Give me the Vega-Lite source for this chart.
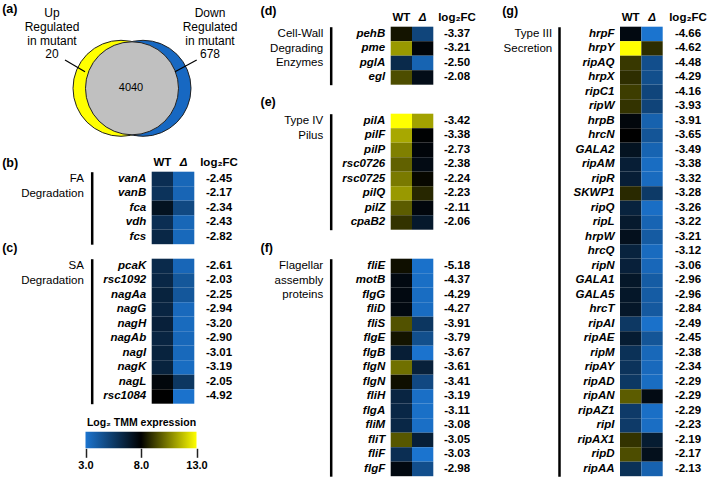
{
"$schema":"https://vega.github.io/schema/vega-lite/v6.json",
"width":709,"height":482,"autosize":{"type":"none"},"padding":0,"background":"white",
"config":{"font":"Liberation Sans","view":{"stroke":null},
 "axis":{"domain":false,"ticks":false,"grid":false,"labelColor":"#000","titleColor":"#000"},
 "locale":{"number":{"decimal":".","thousands":",","grouping":[3],"currency":["$",""],"minus":"-"}}},
"datasets":{
 "venn":[
  {"set":"Up","label":"Up\nRegulated\nin mutant\n20","count":20,"comparison":"mutant vs WT"},
  {"set":"Both","label":"4040","count":4040,"comparison":"mutant vs WT"},
  {"set":"Down","label":"Down\nRegulated\nin mutant\n678","count":678,"comparison":"mutant vs WT"}],
 "scale":[{"measure":"Log₂ TMM expression","low":3,"high":13}],
 "genes":[
  {"panel":"b","gene":"vanA","WT":6.0,"Δ":3.55,"fc":-2.45},
  {"panel":"b","gene":"vanB","WT":5.8,"Δ":3.63,"fc":-2.17},
  {"panel":"b","gene":"fca","WT":7.2,"Δ":4.86,"fc":-2.34},
  {"panel":"b","gene":"vdh","WT":6.0,"Δ":3.57,"fc":-2.43},
  {"panel":"b","gene":"fcs","WT":6.3,"Δ":3.48,"fc":-2.82},
  {"panel":"c","gene":"pcaK","WT":6.2,"Δ":3.59,"fc":-2.61},
  {"panel":"c","gene":"rsc1092","WT":6.3,"Δ":4.27,"fc":-2.03},
  {"panel":"c","gene":"nagAa","WT":6.5,"Δ":4.25,"fc":-2.25},
  {"panel":"c","gene":"nagG","WT":6.4,"Δ":3.46,"fc":-2.94},
  {"panel":"c","gene":"nagH","WT":6.6,"Δ":3.40,"fc":-3.20},
  {"panel":"c","gene":"nagAb","WT":6.4,"Δ":3.50,"fc":-2.90},
  {"panel":"c","gene":"nagI","WT":6.5,"Δ":3.49,"fc":-3.01},
  {"panel":"c","gene":"nagK","WT":6.5,"Δ":3.31,"fc":-3.19},
  {"panel":"c","gene":"nagL","WT":7.7,"Δ":5.65,"fc":-2.05},
  {"panel":"c","gene":"rsc1084","WT":8.0,"Δ":3.08,"fc":-4.92},
  {"panel":"d","gene":"pehB","WT":8.4,"Δ":5.03,"fc":-3.37},
  {"panel":"d","gene":"pme","WT":11.0,"Δ":7.79,"fc":-3.21},
  {"panel":"d","gene":"pglA","WT":6.2,"Δ":3.70,"fc":-2.50},
  {"panel":"d","gene":"egl","WT":9.5,"Δ":7.42,"fc":-2.08},
  {"panel":"e","gene":"pilA","WT":14.6,"Δ":11.18,"fc":-3.42},
  {"panel":"e","gene":"pilF","WT":11.3,"Δ":7.92,"fc":-3.38},
  {"panel":"e","gene":"pilP","WT":10.5,"Δ":7.77,"fc":-2.73},
  {"panel":"e","gene":"rsc0726","WT":9.9,"Δ":7.52,"fc":-2.38},
  {"panel":"e","gene":"rsc0725","WT":10.4,"Δ":8.16,"fc":-2.24},
  {"panel":"e","gene":"pilQ","WT":11.0,"Δ":8.77,"fc":-2.23},
  {"panel":"e","gene":"pilZ","WT":9.8,"Δ":7.69,"fc":-2.11},
  {"panel":"e","gene":"cpaB2","WT":9.0,"Δ":6.94,"fc":-2.06},
  {"panel":"f","gene":"fliE","WT":8.3,"Δ":3.12,"fc":-5.18},
  {"panel":"f","gene":"motB","WT":7.6,"Δ":3.23,"fc":-4.37},
  {"panel":"f","gene":"flgG","WT":7.6,"Δ":3.31,"fc":-4.29},
  {"panel":"f","gene":"fliD","WT":7.6,"Δ":3.33,"fc":-4.27},
  {"panel":"f","gene":"fliS","WT":9.6,"Δ":5.69,"fc":-3.91},
  {"panel":"f","gene":"flgE","WT":8.4,"Δ":4.61,"fc":-3.79},
  {"panel":"f","gene":"flgB","WT":6.7,"Δ":3.03,"fc":-3.67},
  {"panel":"f","gene":"flgN","WT":10.2,"Δ":6.59,"fc":-3.61},
  {"panel":"f","gene":"flgN#2","WT":8.3,"Δ":4.89,"fc":-3.41},
  {"panel":"f","gene":"fliH","WT":6.4,"Δ":3.21,"fc":-3.19},
  {"panel":"f","gene":"flgA","WT":6.3,"Δ":3.19,"fc":-3.11},
  {"panel":"f","gene":"fliM","WT":6.3,"Δ":3.22,"fc":-3.08},
  {"panel":"f","gene":"fliT","WT":9.7,"Δ":6.65,"fc":-3.05},
  {"panel":"f","gene":"fliF","WT":6.0,"Δ":2.97,"fc":-3.03},
  {"panel":"f","gene":"flgF","WT":7.6,"Δ":4.62,"fc":-2.98},
  {"panel":"g","gene":"hrpF","WT":7.6,"Δ":2.94,"fc":-4.66},
  {"panel":"g","gene":"hrpY","WT":13.5,"Δ":8.88,"fc":-4.62},
  {"panel":"g","gene":"ripAQ","WT":9.1,"Δ":4.62,"fc":-4.48},
  {"panel":"g","gene":"hrpX","WT":8.9,"Δ":4.61,"fc":-4.29},
  {"panel":"g","gene":"ripC1","WT":9.2,"Δ":5.04,"fc":-4.16},
  {"panel":"g","gene":"ripW","WT":9.0,"Δ":5.07,"fc":-3.93},
  {"panel":"g","gene":"hrpB","WT":7.7,"Δ":3.79,"fc":-3.91},
  {"panel":"g","gene":"hrcN","WT":8.0,"Δ":4.35,"fc":-3.65},
  {"panel":"g","gene":"GALA2","WT":7.2,"Δ":3.71,"fc":-3.49},
  {"panel":"g","gene":"ripAM","WT":6.7,"Δ":3.32,"fc":-3.38},
  {"panel":"g","gene":"ripR","WT":6.7,"Δ":3.38,"fc":-3.32},
  {"panel":"g","gene":"SKWP1","WT":8.8,"Δ":5.52,"fc":-3.28},
  {"panel":"g","gene":"ripQ","WT":6.5,"Δ":3.24,"fc":-3.26},
  {"panel":"g","gene":"ripL","WT":6.9,"Δ":3.68,"fc":-3.22},
  {"panel":"g","gene":"hrpW","WT":7.3,"Δ":4.09,"fc":-3.21},
  {"panel":"g","gene":"hrcQ","WT":6.5,"Δ":3.38,"fc":-3.12},
  {"panel":"g","gene":"ripN","WT":6.6,"Δ":3.54,"fc":-3.06},
  {"panel":"g","gene":"GALA1","WT":7.0,"Δ":4.04,"fc":-2.96},
  {"panel":"g","gene":"GALA5","WT":7.0,"Δ":4.04,"fc":-2.96},
  {"panel":"g","gene":"hrcT","WT":7.0,"Δ":4.16,"fc":-2.84},
  {"panel":"g","gene":"ripAI","WT":5.6,"Δ":3.11,"fc":-2.49},
  {"panel":"g","gene":"ripAE","WT":6.8,"Δ":4.35,"fc":-2.45},
  {"panel":"g","gene":"ripM","WT":5.9,"Δ":3.52,"fc":-2.38},
  {"panel":"g","gene":"ripAY","WT":5.8,"Δ":3.46,"fc":-2.34},
  {"panel":"g","gene":"ripAD","WT":5.6,"Δ":3.31,"fc":-2.29},
  {"panel":"g","gene":"ripAN","WT":9.8,"Δ":7.51,"fc":-2.29},
  {"panel":"g","gene":"ripAZ1","WT":5.5,"Δ":3.21,"fc":-2.29},
  {"panel":"g","gene":"ripI","WT":5.5,"Δ":3.27,"fc":-2.23},
  {"panel":"g","gene":"ripAX1","WT":9.0,"Δ":6.81,"fc":-2.19},
  {"panel":"g","gene":"ripD","WT":9.5,"Δ":7.33,"fc":-2.17},
  {"panel":"g","gene":"ripAA","WT":5.9,"Δ":3.77,"fc":-2.13}]
},
"layer":[
 {"data":{"name":"venn"},
  "encoding":{
   "x":{"field":"set","type":"nominal","scale":{"type":"point","domain":["Up","Both","Down"],"range":[121,143],"padding":0},
        "axis":{"orient":"top","labels":false,"title":"(a)","titleX":1.7,"titleY":8,"titleAlign":"left","titleBaseline":"middle","titleFontSize":12.5,"titleFontWeight":"bold","titleAngle":0}},
   "y":{"field":"comparison","type":"nominal","scale":{"type":"point","range":[88.3,88.3]},"axis":null}},
  "layer":[
   {"transform":[{"filter":"datum.set === 'Up'"}],"mark":{"type":"point","shape":"circle","filled":true,"fill":"#ffff00","stroke":"#222","strokeWidth":1,"size":9216,"opacity":1}},
   {"transform":[{"filter":"datum.set === 'Down'"}],"mark":{"type":"point","shape":"circle","filled":true,"fill":"#1768c2","stroke":"#222","strokeWidth":1,"size":9216,"opacity":1}},
   {"transform":[{"filter":"datum.set === 'Both'"}],"mark":{"type":"point","shape":"circle","filled":true,"fill":"#c0c0c0","stroke":"#222","strokeWidth":1,"size":8649,"opacity":1}},
   {"transform":[{"filter":"datum.set === 'Both'"}],"mark":{"type":"text","fontSize":11,"dx":-1},"encoding":{"text":{"field":"label","type":"nominal"}}},
   {"transform":[{"filter":"datum.set === 'Up'"}],"mark":{"type":"text","fontSize":12,"lineBreak":"\n","lineHeight":13.7,"baseline":"middle","dx":-69,"dy":-75},"encoding":{"text":{"field":"label","type":"nominal"}}},
   {"transform":[{"filter":"datum.set === 'Down'"}],"mark":{"type":"text","fontSize":12,"lineBreak":"\n","lineHeight":13.7,"baseline":"middle","dx":67,"dy":-75},"encoding":{"text":{"field":"label","type":"nominal"}}},
   {"transform":[{"filter":"datum.set !== 'Both'"}],"mark":{"type":"point","filled":false,"stroke":"#000","strokeWidth":1.2,"size":10000,"opacity":1},
    "encoding":{"shape":{"field":"set","type":"nominal","scale":{"domain":["Up","Down"],"range":["M-1.12,-0.566L-0.72,-0.332","M1.074,-0.566L0.64,-0.332"]},"legend":null}}}
  ]},
 {"data":{"name":"genes"},"transform":[{"filter":"datum.panel === 'b'"}],
  "layer":[
   {"transform":[{"fold":["WT","Δ"],"as":["condition","log2TMM"]}],"mark":{"type":"rect"},
    "encoding":{
     "x":{"field":"condition","type":"nominal","scale":{"type":"band","domain":["WT","Δ"],"range":[151.7,194.3],"paddingInner":0,"paddingOuter":0},
          "axis":{"orient":"top","offset":-171.7,"labelPadding":4,"labelAngle":0,"labelFontWeight":"bold","labelFontSize":11.5,"labelFontStyle":{"condition":{"test":"datum.value === 'Δ'","value":"italic"},"value":"normal"},
                  "title":"(b)","titleX":1.7,"titleY":-9,"titleAlign":"left","titleBaseline":"middle","titleFontSize":12.5,"titleFontWeight":"bold","titleAngle":0}},
     "y":{"field":"gene","type":"nominal","scale":{"type":"band","domain":["vanA","vanB","fca","vdh","fcs"],"range":[171.7,244.2],"paddingInner":0,"paddingOuter":0},
          "axis":{"orient":"left","offset":-151.7,"labelPadding":6,"labelFontStyle":"italic","labelFontWeight":"bold","labelFontSize":11.5,"title":null}},
     "color":{"field":"log2TMM","type":"quantitative","scale":{"domain":[3,8,13],"range":["#1b74cf","#000000","#ffff00"],"interpolate":"rgb","clamp":true},"legend":null}}},
   {"mark":{"type":"text","fontWeight":"bold","fontSize":11.5},
    "encoding":{
     "x":{"datum":"log₂FC","type":"nominal","scale":{"type":"band","range":[207,231]},"axis":{"orient":"top","offset":-171.7,"labelPadding":4,"labelAngle":0,"labelFontWeight":"bold","labelFontSize":11.5,"title":null}},
     "y":{"field":"gene","type":"nominal","axis":{"orient":"left","offset":-91.7,"labels":false,"domain":true,"domainColor":"#000","domainWidth":2.5,"title":["FA","Degradation"],"titleAngle":0,"titleAlign":"right","titleBaseline":"middle","titleX":-8.4,"titleY":178.95,"titleFontSize":11.5,"titleFontWeight":"normal","titleLineHeight":14.5}},
     "text":{"field":"fc","type":"quantitative","format":".2f"}}}
  ],
  "resolve":{"scale":{"x":"independent"},"axis":{"x":"independent","y":"independent"}}},
 {"data":{"name":"genes"},"transform":[{"filter":"datum.panel === 'c'"}],
  "layer":[
   {"transform":[{"fold":["WT","Δ"],"as":["condition","log2TMM"]}],"mark":{"type":"rect"},
    "encoding":{
     "x":{"field":"condition","type":"nominal","scale":{"type":"band","domain":["WT","Δ"],"range":[151.7,194.3],"paddingInner":0,"paddingOuter":0},
          "axis":{"orient":"top","offset":-258.7,"labels":false,"title":"(c)","titleX":1.7,"titleY":-11,"titleAlign":"left","titleBaseline":"middle","titleFontSize":12.5,"titleFontWeight":"bold","titleAngle":0}},
     "y":{"field":"gene","type":"nominal","scale":{"type":"band","domain":["pcaK","rsc1092","nagAa","nagG","nagH","nagAb","nagI","nagK","nagL","rsc1084"],"range":[258.7,403.7],"paddingInner":0,"paddingOuter":0},
          "axis":{"orient":"left","offset":-151.7,"labelPadding":6,"labelFontStyle":"italic","labelFontWeight":"bold","labelFontSize":11.5,"title":null}},
     "color":{"field":"log2TMM","type":"quantitative","scale":{"domain":[3,8,13],"range":["#1b74cf","#000000","#ffff00"],"interpolate":"rgb","clamp":true},"legend":null}}},
   {"mark":{"type":"text","fontWeight":"bold","fontSize":11.5},
    "encoding":{
     "x":{"datum":"log₂FC","type":"nominal","scale":{"type":"band","range":[207,231]},"axis":null},
     "y":{"field":"gene","type":"nominal","axis":{"orient":"left","offset":-91.7,"labels":false,"domain":true,"domainColor":"#000","domainWidth":2.5,"title":["SA","Degradation"],"titleAngle":0,"titleAlign":"right","titleBaseline":"middle","titleX":-8.4,"titleY":265.95,"titleFontSize":11.5,"titleFontWeight":"normal","titleLineHeight":14.5}},
     "text":{"field":"fc","type":"quantitative","format":".2f"}}}
  ],
  "resolve":{"scale":{"x":"independent"},"axis":{"x":"independent","y":"independent"}}},
 {"data":{"name":"genes"},"transform":[{"filter":"datum.panel === 'd'"}],
  "layer":[
   {"transform":[{"fold":["WT","Δ"],"as":["condition","log2TMM"]}],"mark":{"type":"rect"},
    "encoding":{
     "x":{"field":"condition","type":"nominal","scale":{"type":"band","domain":["WT","Δ"],"range":[390.7,433.3],"paddingInner":0,"paddingOuter":0},
          "axis":{"orient":"top","offset":-26.7,"labelPadding":4,"labelAngle":0,"labelFontWeight":"bold","labelFontSize":11.5,"labelFontStyle":{"condition":{"test":"datum.value === 'Δ'","value":"italic"},"value":"normal"},
                  "title":"(d)","titleX":260,"titleY":-16,"titleAlign":"left","titleBaseline":"middle","titleFontSize":12.5,"titleFontWeight":"bold","titleAngle":0}},
     "y":{"field":"gene","type":"nominal","scale":{"type":"band","domain":["pehB","pme","pglA","egl"],"range":[26.7,84.7],"paddingInner":0,"paddingOuter":0},
          "axis":{"orient":"left","offset":-390.7,"labelPadding":6,"labelFontStyle":"italic","labelFontWeight":"bold","labelFontSize":11.5,"title":null}},
     "color":{"field":"log2TMM","type":"quantitative","scale":{"domain":[3,8,13],"range":["#1b74cf","#000000","#ffff00"],"interpolate":"rgb","clamp":true},"legend":null}}},
   {"mark":{"type":"text","fontWeight":"bold","fontSize":11.5},
    "encoding":{
     "x":{"datum":"log₂FC","type":"nominal","scale":{"type":"band","range":[445,469]},"axis":{"orient":"top","offset":-26.7,"labelPadding":4,"labelAngle":0,"labelFontWeight":"bold","labelFontSize":11.5,"title":null}},
     "y":{"field":"gene","type":"nominal","axis":{"orient":"left","offset":-330.7,"labels":false,"domain":true,"domainColor":"#000","domainWidth":2.5,"title":["Cell-Wall","Degrading","Enzymes"],"titleAngle":0,"titleAlign":"right","titleBaseline":"middle","titleX":-8,"titleY":33.95,"titleFontSize":11.5,"titleFontWeight":"normal","titleLineHeight":14.5}},
     "text":{"field":"fc","type":"quantitative","format":".2f"}}}
  ],
  "resolve":{"scale":{"x":"independent"},"axis":{"x":"independent","y":"independent"}}},
 {"data":{"name":"genes"},"transform":[{"filter":"datum.panel === 'e'"}],
  "layer":[
   {"transform":[{"fold":["WT","Δ"],"as":["condition","log2TMM"]}],"mark":{"type":"rect"},
    "encoding":{
     "x":{"field":"condition","type":"nominal","scale":{"type":"band","domain":["WT","Δ"],"range":[390.7,433.3],"paddingInner":0,"paddingOuter":0},
          "axis":{"orient":"top","offset":-113.7,"labels":false,"title":"(e)","titleX":260,"titleY":-12,"titleAlign":"left","titleBaseline":"middle","titleFontSize":12.5,"titleFontWeight":"bold","titleAngle":0}},
     "y":{"field":"gene","type":"nominal","scale":{"type":"band","domain":["pilA","pilF","pilP","rsc0726","rsc0725","pilQ","pilZ","cpaB2"],"range":[113.7,229.7],"paddingInner":0,"paddingOuter":0},
          "axis":{"orient":"left","offset":-390.7,"labelPadding":6,"labelFontStyle":"italic","labelFontWeight":"bold","labelFontSize":11.5,"title":null}},
     "color":{"field":"log2TMM","type":"quantitative","scale":{"domain":[3,8,13],"range":["#1b74cf","#000000","#ffff00"],"interpolate":"rgb","clamp":true},"legend":null}}},
   {"mark":{"type":"text","fontWeight":"bold","fontSize":11.5},
    "encoding":{
     "x":{"datum":"log₂FC","type":"nominal","scale":{"type":"band","range":[445,469]},"axis":null},
     "y":{"field":"gene","type":"nominal","axis":{"orient":"left","offset":-330.7,"labels":false,"domain":true,"domainColor":"#000","domainWidth":2.5,"title":["Type IV","Pilus"],"titleAngle":0,"titleAlign":"right","titleBaseline":"middle","titleX":-8,"titleY":120.95,"titleFontSize":11.5,"titleFontWeight":"normal","titleLineHeight":14.5}},
     "text":{"field":"fc","type":"quantitative","format":".2f"}}}
  ],
  "resolve":{"scale":{"x":"independent"},"axis":{"x":"independent","y":"independent"}}},
 {"data":{"name":"genes"},"transform":[{"filter":"datum.panel === 'f'"}],
  "layer":[
   {"transform":[{"fold":["WT","Δ"],"as":["condition","log2TMM"]}],"mark":{"type":"rect"},
    "encoding":{
     "x":{"field":"condition","type":"nominal","scale":{"type":"band","domain":["WT","Δ"],"range":[390.7,433.3],"paddingInner":0,"paddingOuter":0},
          "axis":{"orient":"top","offset":-258.7,"labels":false,"title":"(f)","titleX":260,"titleY":-11,"titleAlign":"left","titleBaseline":"middle","titleFontSize":12.5,"titleFontWeight":"bold","titleAngle":0}},
     "y":{"field":"gene","type":"nominal","scale":{"type":"band","domain":["fliE","motB","flgG","fliD","fliS","flgE","flgB","flgN","flgN#2","fliH","flgA","fliM","fliT","fliF","flgF"],"range":[258.7,476.2],"paddingInner":0,"paddingOuter":0},
          "axis":{"orient":"left","offset":-390.7,"labelPadding":6,"labelFontStyle":"italic","labelFontWeight":"bold","labelFontSize":11.5,"labelExpr":"replace(datum.label,'#2','')","title":null}},
     "color":{"field":"log2TMM","type":"quantitative","scale":{"domain":[3,8,13],"range":["#1b74cf","#000000","#ffff00"],"interpolate":"rgb","clamp":true},"legend":null}}},
   {"mark":{"type":"text","fontWeight":"bold","fontSize":11.5},
    "encoding":{
     "x":{"datum":"log₂FC","type":"nominal","scale":{"type":"band","range":[445,469]},"axis":null},
     "y":{"field":"gene","type":"nominal","axis":{"orient":"left","offset":-330.7,"labels":false,"domain":true,"domainColor":"#000","domainWidth":2.5,"title":["Flagellar","assembly","proteins"],"titleAngle":0,"titleAlign":"right","titleBaseline":"middle","titleX":-8,"titleY":265.95,"titleFontSize":11.5,"titleFontWeight":"normal","titleLineHeight":14.5}},
     "text":{"field":"fc","type":"quantitative","format":".2f"}}}
  ],
  "resolve":{"scale":{"x":"independent"},"axis":{"x":"independent","y":"independent"}}},
 {"data":{"name":"genes"},"transform":[{"filter":"datum.panel === 'g'"}],
  "layer":[
   {"transform":[{"fold":["WT","Δ"],"as":["condition","log2TMM"]}],"mark":{"type":"rect"},
    "encoding":{
     "x":{"field":"condition","type":"nominal","scale":{"type":"band","domain":["WT","Δ"],"range":[620,662.7],"paddingInner":0,"paddingOuter":0},
          "axis":{"orient":"top","offset":-26.7,"labelPadding":4,"labelAngle":0,"labelFontWeight":"bold","labelFontSize":11.5,"labelFontStyle":{"condition":{"test":"datum.value === 'Δ'","value":"italic"},"value":"normal"},
                  "title":"(g)","titleX":501.7,"titleY":-16,"titleAlign":"left","titleBaseline":"middle","titleFontSize":12.5,"titleFontWeight":"bold","titleAngle":0}},
     "y":{"field":"gene","type":"nominal","scale":{"type":"band","domain":["hrpF","hrpY","ripAQ","hrpX","ripC1","ripW","hrpB","hrcN","GALA2","ripAM","ripR","SKWP1","ripQ","ripL","hrpW","hrcQ","ripN","GALA1","GALA5","hrcT","ripAI","ripAE","ripM","ripAY","ripAD","ripAN","ripAZ1","ripI","ripAX1","ripD","ripAA"],"range":[26.7,476.2],"paddingInner":0,"paddingOuter":0},
          "axis":{"orient":"left","offset":-620,"labelPadding":6,"labelFontStyle":"italic","labelFontWeight":"bold","labelFontSize":11.5,"title":null}},
     "color":{"field":"log2TMM","type":"quantitative","scale":{"domain":[3,8,13],"range":["#1b74cf","#000000","#ffff00"],"interpolate":"rgb","clamp":true},"legend":null}}},
   {"mark":{"type":"text","fontWeight":"bold","fontSize":11.5},
    "encoding":{
     "x":{"datum":"log₂FC","type":"nominal","scale":{"type":"band","range":[676,700]},"axis":{"orient":"top","offset":-26.7,"labelPadding":4,"labelAngle":0,"labelFontWeight":"bold","labelFontSize":11.5,"title":null}},
     "y":{"field":"gene","type":"nominal","axis":{"orient":"left","offset":-559,"labels":false,"domain":true,"domainColor":"#000","domainWidth":2.5,"title":["Type III","Secretion"],"titleAngle":0,"titleAlign":"right","titleBaseline":"middle","titleX":-7.3,"titleY":33.95,"titleFontSize":11.5,"titleFontWeight":"normal","titleLineHeight":14.5}},
     "text":{"field":"fc","type":"quantitative","format":".2f"}}}
  ],
  "resolve":{"scale":{"x":"independent"},"axis":{"x":"independent","y":"independent"}}},
 {"data":{"name":"scale"},
  "mark":{"type":"rect","fill":{"gradient":"linear","stops":[{"offset":0,"color":"#1b74cf"},{"offset":0.5,"color":"#000000"},{"offset":1,"color":"#ffff00"}]}},
  "encoding":{
   "x":{"field":"low","type":"quantitative","scale":{"domain":[3,13],"range":[85.5,196.5],"zero":false,"nice":false},
        "axis":{"orient":"bottom","offset":-33.7,"values":[3,8,13],"format":".1f","ticks":true,"tickSize":9,"tickWidth":1.5,"tickColor":"#222","labelFlush":false,"labelPadding":2,"labelFontWeight":"bold","labelFontSize":11,
                "title":"Log₂ TMM expression","titleX":141,"titleY":-25.6,"titleAlign":"center","titleBaseline":"middle","titleFontSize":10.5,"titleFontWeight":"bold","titleAngle":0}},
   "x2":{"field":"high"},
   "y":{"field":"measure","type":"nominal","scale":{"type":"band","range":[431.7,448.3],"paddingInner":0,"paddingOuter":0},"axis":null}}}
],
"resolve":{"scale":{"x":"independent","y":"independent"},"axis":{"x":"independent","y":"independent"}}
}
